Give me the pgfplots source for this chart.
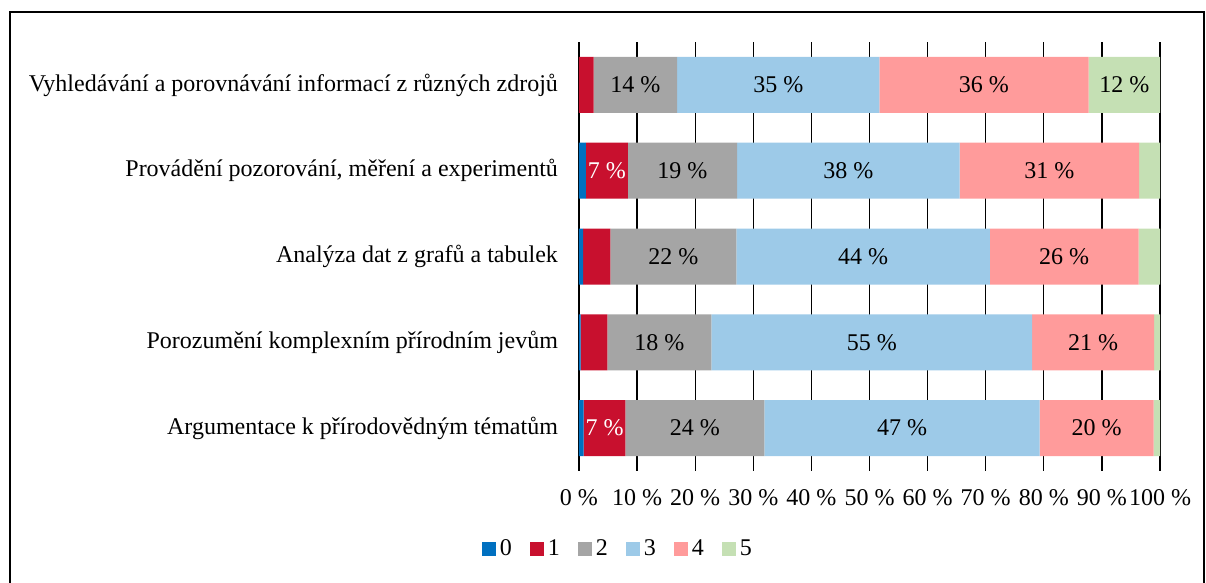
\documentclass[border=0pt]{standalone}
\usepackage{pgfplots}
\pgfplotsset{compat=1.18}
\usepackage{pgfplotstable}
\usepackage{fontspec}
\setmainfont{Liberation Serif}
\definecolor{c0}{HTML}{0070C0}
\definecolor{c1}{HTML}{C8102E}
\definecolor{c2}{HTML}{A5A5A5}
\definecolor{c3}{HTML}{9DCAE8}
\definecolor{c4}{HTML}{FF9B9B}
\definecolor{c5}{HTML}{C5E0B4}
\pgfplotstableread{
y v0 v1 v2 v3 v4 v5
5 0 2.5 14.4 34.8 36.0 12.3
4 1.2 7.2 18.8 38.3 30.9 3.6
3 0.7 4.7 21.7 43.6 25.6 3.7
2 0.3 4.6 17.9 55.2 21.0 1.0
1 0.8 7.2 23.9 47.4 19.6 1.1
}\data
\pgfplotsset{lab/.style={visualization depends on={\thisrow{#1} \as \rawx}}}
\begin{document}
\begin{tikzpicture}[font=\fontsize{12}{14.4}\selectfont]
\useasboundingbox (0,0) rectangle (603pt,291.5pt);
\draw[line width=0.8pt] (5pt,-2pt) -- (5pt,285.5pt) -- (602pt,285.5pt) -- (602pt,-2pt);
\begin{axis}[
  at={(289.5pt,56pt)}, anchor=south west,
  scale only axis, width=290.5pt, height=214.5pt,
  xbar stacked, bar width=28pt,
  xmin=0, xmax=100, ymin=0.5, ymax=5.5,
  xtick={0,10,20,30,40,50,60,70,80,90,100},
  xticklabels={0~\%,10~\%,20~\%,30~\%,40~\%,50~\%,60~\%,70~\%,80~\%,90~\%,100~\%},
  ytick={1,2,3,4,5},
  yticklabels={Argumentace k přírodovědným tématům,
    Porozumění komplexním přírodním jevům,
    Analýza dat z grafů a tabulek,
    Provádění pozorování{,} měření a experimentů,
    Vyhledávání a porovnávání informací z různých zdrojů},
  major tick length=0pt,
  axis line style={draw=none},
  xmajorgrids, grid style={black, line width=0.6pt},
  xticklabel style={yshift=-5.5pt},
  yticklabel style={anchor=east, xshift=-7pt},
  nodes near coords={\ifdim\rawx pt<5.5pt\else\pgfmathprintnumber[fixed,precision=0,assume math mode=true]{\rawx}~\%\fi},
  every node near coord/.append style={anchor=center},
  legend style={at={(0.0688,-0.182)}, anchor=center, legend columns=-1, draw=none, fill=none,
    /tikz/every even column/.append style={column sep=7pt}},
  legend image code/.code={\fill[#1,draw=none] (0pt,-3.5pt) rectangle (7pt,3.5pt);},
]
\addplot[fill=c0, draw=none, lab=v0] table[x=v0,y=y]{\data};
\addplot[fill=c1, draw=none, lab=v1, every node near coord/.append style={text=white}] table[x=v1,y=y]{\data};
\addplot[fill=c2, draw=none, lab=v2] table[x=v2,y=y]{\data};
\addplot[fill=c3, draw=none, lab=v3] table[x=v3,y=y]{\data};
\addplot[fill=c4, draw=none, lab=v4] table[x=v4,y=y]{\data};
\addplot[fill=c5, draw=none, lab=v5] table[x=v5,y=y]{\data};
\legend{0,1,2,3,4,5}
\draw[black, line width=0.6pt] (axis cs:0,0.5) -- (axis cs:0,5.5);
\end{axis}
\end{tikzpicture}
\end{document}
